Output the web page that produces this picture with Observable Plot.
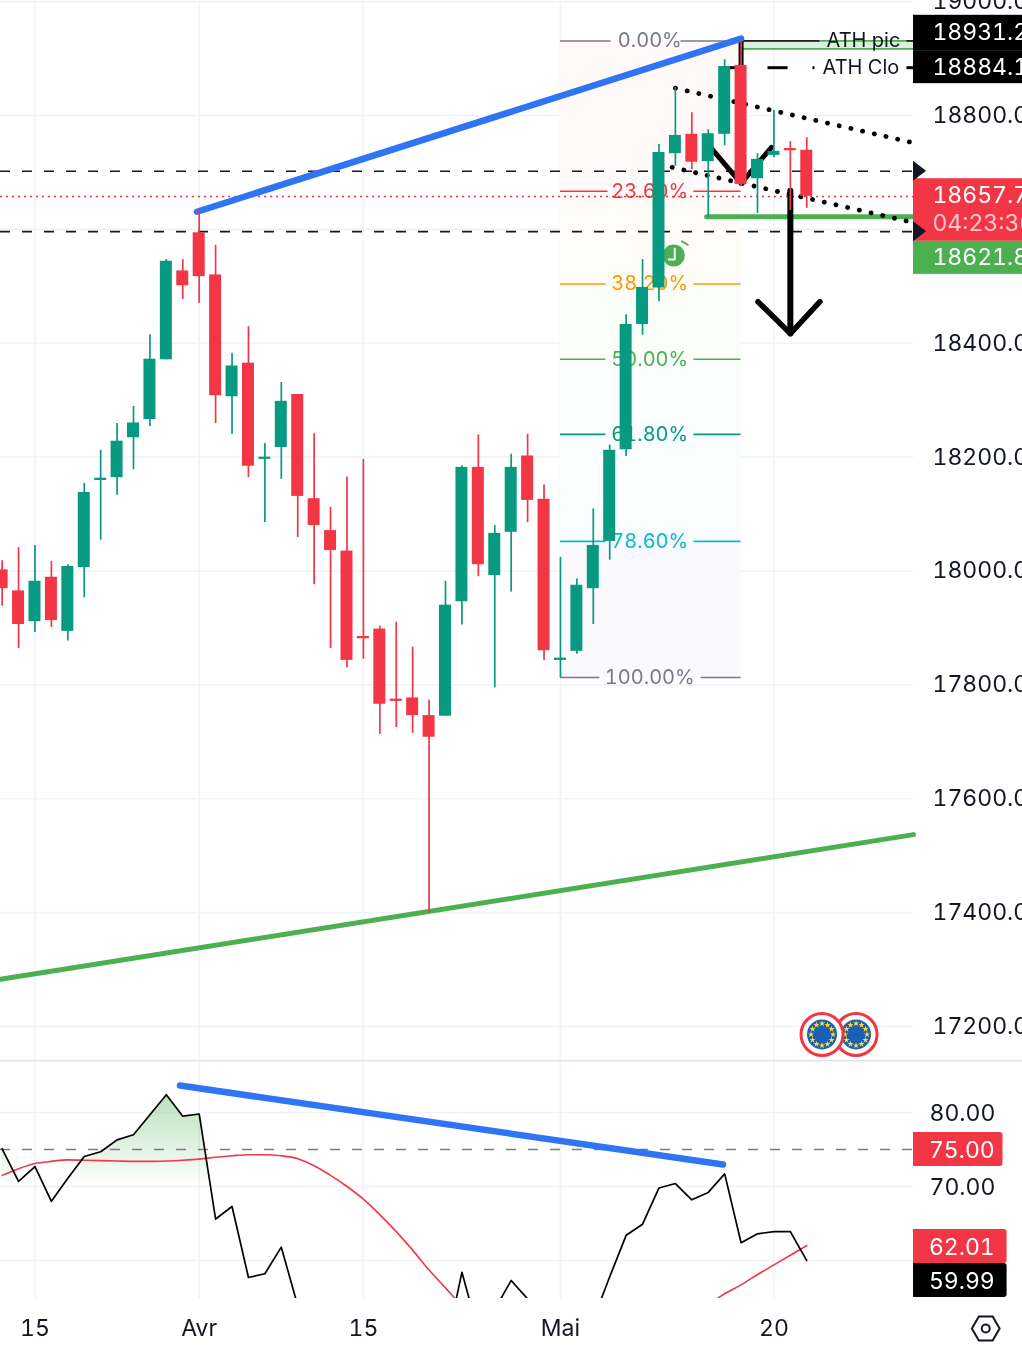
<!DOCTYPE html>
<html><head><meta charset="utf-8">
<script src="https://cdn.jsdelivr.net/npm/d3@7"></script>
<script src="https://cdn.jsdelivr.net/npm/@observablehq/plot@0.6"></script>
<style>
html,body{margin:0;padding:0;background:#fff;width:1022px;height:1352px;overflow:hidden}
#c{position:relative;width:1022px;height:1352px;overflow:hidden}
#c svg{display:block;position:absolute;left:0;font-variant-numeric:tabular-nums;filter:blur(.35px)}
</style></head><body><div id="c"></div>
<script>
// ---- price data (bar index 0 = the 15th of March, 10 = 1 April, 20 = 15 April, 32 = 1 May, 45 = 20 May)
const firstBar = -2;
const opens  = [18002,17965,17911,17989,17894,18006,18159,18164,18234,18266,18371,18527,18594,18520,18306,18365,18196,18217,18310,18127,18071,18035,17885,17898,17775,17777,17746,17745,17946,18182,17992,18068,18202,18126,17843,17859,17969,18052,18213,18433,18497,18733,18767,18719,18767,18888,18689,18730,18742,18739];
const closes = [17969,17906,17982,17913,18008,18138,18163,18228,18260,18372,18544,18501,18517,18308,18360,18184,18200,18298,18131,18080,18036,17843,17881,17766,17771,17746,17708,17940,18182,18011,18066,18182,18124,17860,17847,17975,18045,18212,18433,18498,18735,18765,18718,18768,18886,18679,18723,18737,18738,18658];
const highs  = [18018,18041,18045,18017,18011,18154,18212,18259,18289,18415,18547,18547,18633,18572,18382,18429,18224,18331,18310,18241,18112,18165,18196,17903,17910,17866,17773,17982,18185,18239,18080,18205,18240,18151,18024,17986,18109,18221,18450,18547,18749,18849,18805,18775,18898,18931,18733,18809,18754,18761];
const lows   = [17938,17864,17892,17901,17877,17953,18054,18133,18178,18254,18371,18477,18470,18259,18240,18164,18085,18161,18059,17976,17864,17830,17845,17713,17725,17715,17400,17745,17905,17990,17795,17963,18085,17843,17813,17854,17906,18019,18201,18414,18473,18711,18705,18621,18747,18675,18628,18726,18633,18637];
const rsiValues = [75.1,70.7,72.7,68.0,71.1,74.05,74.7,76.3,77.0,79.7,82.4,79.5,79.8,65.6,67.3,57.7,58.2,61.8,53.9,52,50,46,46,43,43,42,41,48,58.4,50.3,53.4,57.3,54.8,47,43,46,52,57.8,63.4,64.9,69.8,70.4,68.2,69.2,71.7,62.4,63.6,63.9,63.9,59.99];
const rsiMaValues = [71.5,72.4,73.1,73.4,73.6,73.55,73.5,73.45,73.4,73.4,73.45,73.55,73.7,73.95,74.15,74.3,74.3,74.15,73.75,72.8,71.5,70.0,68.3,66.2,63.9,61.4,58.7,56.3,53.9,52.5,51,50,49.5,49,48,47.5,47,47,47.5,48.5,50,51,52.5,54,55.5,56.7,58.1,59.4,60.7,62.01];

const priceTicks = [17200,17400,17600,17800,18000,18200,18400,18600,18800,19000];
const priceLabels = [17200,17400,17600,17800,18000,18200,18400,18800,19000];
const timeTicks = [0,10,20,32,45];
const timeNames = ["15","Avr","15","Mai","20"];
const rsiGrid = [80,70,60];
const rsiLabels = [80,70];

const fibLevels  = [18931,18667,18504,18372,18240,18052,17813];
const fibNames   = ["0.00%","23.60%","38.20%","50.00%","61.80%","78.60%","100.00%"];
const fibColors  = ["#787b86","#f23645","#ff9800","#4caf50","#089981","#00bcd4","#787b86"];
const fibFills   = ["#fff9f9","#fffcf8","#fbfdf9","#fafdfb","#f9fdfd","#fafafe"];
const fibGapFrom = [35.08,34.9,34.77,34.77,34.77,34.77,34.4];
const fibGapTo   = [39.34,40.13,40.13,40.13,40.13,40.13,40.56];
const hiddenLevels = [18702,18596];

const tagBoxes = [
  {top:18976,bottom:18914,fill:"#000000"},
  {top:18914,bottom:18856,fill:"#000000"},
  {top:18689,bottom:18579,fill:"#f23645"},
  {top:18579,bottom:18521,fill:"#4caf50"}];
const tagTexts = [
  {y:18946,text:"18931.20",o:1},{y:18884,text:"18884.10",o:1},
  {y:18659,text:"18657.70",o:1},{y:18610,text:"04:23:36",o:.72},{y:18551,text:"18621.80",o:1}];
const rsiTags = [
  {top:77.3,bottom:72.7,end:58.95,y:75,text:"75.00",fill:"#f23645"},
  {top:64.19,bottom:59.59,end:59.2,y:61.9,text:"62.01",fill:"#f23645"},
  {top:59.59,bottom:55,end:59.2,y:57.3,text:"59.99",fill:"#000000"}];

// ---- layout of the x scale
const left=-2.1,right=53.5,edge=right,pageEnd=61,tagText=54.65,rsiTagText=54.44,tipT=54.3;
const bars = opens.map((o,i)=>({t:firstBar+i,open:o,close:closes[i],high:highs[i],low:lows[i]}));
const rsiRows = rsiValues.map((v,i)=>({t:firstBar+i,v,ma:rsiMaValues[i]}));
const up="#089981",down="#f23645",ink="#131722",gridC="#f2f3f6",blue="#2f74f5",green="#4caf50";
const color=d=>d.close>=d.open?up:down;
const seg=(pts,o)=>Plot.line(pts,{x:"0",y:"1",...o});
const text=(o)=>({fontFamily:"Inter",...o});

const fibRows = fibLevels.map((p,i)=>({p,name:fibNames[i],c:fibColors[i],a:fibGapFrom[i],b:fibGapTo[i]}));
const fibBands = fibFills.map((f,i)=>({top:fibLevels[i],bottom:fibLevels[i+1],f}));

// EU flag badge
function flag(t){
  const m=[
    Plot.dot([[t,17186]],{x:"0",y:"1",r:21,fill:"#fff",stroke:down,strokeWidth:3}),
    Plot.dot([[t,17186]],{x:"0",y:"1",r:15,fill:"#1a5fb4"})];
  d3.range(12).forEach(k=>{const a=k/12*2*Math.PI;
    m.push(Plot.dot([[t,17186]],{x:"0",y:"1",symbol:"star",r:2,fill:"#ffd83a",dx:11*Math.sin(a),dy:11*Math.cos(a)}));});
  return m;
}
// tag pointer on the price scale
const pointer=p=>Plot.areaY([{x:edge,a:p+17.6,b:p-17.6},{x:tipT,a:p,b:p}],{x:"x",y1:"a",y2:"b",fill:ink});

const main = Plot.plot({
  width:1022,height:1060,marginLeft:0,marginRight:109,marginTop:0,marginBottom:0,
  style:{background:"transparent",fontFamily:"Inter"},
  x:{type:"linear",domain:[left,right],axis:null},
  y:{type:"linear",domain:[17140.3,19002],axis:null},
  color:{type:"identity"},
  marks:[
    Plot.ruleY(priceTicks,{stroke:gridC,strokeWidth:1.6}),
    Plot.ruleX(timeTicks,{stroke:gridC,strokeWidth:1.6}),
    Plot.rect(fibBands,{x1:()=>32,x2:()=>43,y1:"top",y2:"bottom",fill:"f"}),
    Plot.ruleY(fibRows,{y:"p",x1:()=>32,x2:"a",stroke:"c",strokeWidth:1.6}),
    Plot.ruleY(fibRows,{y:"p",x1:"b",x2:()=>43,stroke:"c",strokeWidth:1.6}),
    Plot.text(fibRows,text({x:()=>37.44,y:"p",text:"name",fill:"c",fontSize:20})),
    Plot.ruleY(hiddenLevels,{stroke:ink,strokeWidth:1.6,strokeDasharray:"10 12"}),
    Plot.ruleY([18657.7],{stroke:down,strokeWidth:1.6,strokeDasharray:"2 4"}),
    // ATH band
    Plot.rect([{a:18931,b:18917}],{x1:()=>43,x2:()=>edge,y1:"a",y2:"b",fill:"#dcefdc"}),
    Plot.ruleY([18931,18917],{x1:()=>43,x2:()=>edge,stroke:green,strokeWidth:1.8}),
    Plot.ruleY([18931],{x1:()=>43,x2:()=>47.8,stroke:"#222",strokeWidth:1.8}),
    Plot.ruleY([18931],{x1:()=>53.1,x2:()=>edge,stroke:"#222",strokeWidth:1.8}),
    ...[[42.08,42.9],[44.64,45.86],[47.38,47.5],[53.1,edge]].map(([a,b])=>Plot.ruleY([18884],{x1:()=>a,x2:()=>b,stroke:"#000",strokeWidth:3})),
    seg([[43,18931],[43,18884]],{stroke:"#000",strokeWidth:5}),
    Plot.text([["ATH pic",18931]],text({x:()=>50.45,y:"1",text:"0",fill:ink,fontSize:20})),
    Plot.text([["ATH Clo",18884]],text({x:()=>50.3,y:"1",text:"0",fill:ink,fontSize:20})),
    // drawings
    seg([[left,17283],[right,17537]],{stroke:green,strokeWidth:5}),
    seg([[40.9,18622],[right,18622]],{stroke:green,strokeWidth:5,strokeLinecap:"round"}),
    seg([[39,18848],[right,18752]],{stroke:"#000",strokeWidth:4.8,strokeLinecap:"round",strokeDasharray:"0.1 11.9"}),
    seg([[38.8,18709],[right,18612]],{stroke:"#000",strokeWidth:4.8,strokeLinecap:"round",strokeDasharray:"0.1 11.9"}),
    seg([[41,18749],[43,18681],[44.85,18744]],{stroke:"#000",strokeWidth:5,strokeLinecap:"round"}),
    seg([[46,18668],[46,18417]],{stroke:"#000",strokeWidth:6}),
    seg([[44.03,18473],[46,18417],[47.8,18473]],{stroke:"#000",strokeWidth:5.5,strokeLinecap:"round"}),
    seg([[9.87,18631],[43,18935]],{stroke:blue,strokeWidth:6.5,strokeLinecap:"round"}),
    // alarm
    Plot.dot([[38.9,18554]],{x:"0",y:"1",r:11,fill:green}),
    seg([[38.96,18566],[38.96,18547],[38.6,18547]],{stroke:"#fff",strokeWidth:2}),
    seg([[39.4,18579],[39.75,18573]],{stroke:green,strokeWidth:2}),
    // candles
    Plot.ruleX(bars,{x:"t",y1:"low",y2:"high",stroke:color,strokeWidth:1.7}),
    Plot.rect(bars,{x1:d=>d.t-.365,x2:d=>d.t+.365,y1:"open",y2:"close",fill:color}),
    // flags: right one beneath the left one
    ...flag(50),...flag(47.93),
    // price scale
    Plot.axisY({anchor:"right",ticks:priceLabels,tickSize:0,tickPadding:19,tickFormat:d=>d.toFixed(2),textAnchor:"start",fontSize:23,fill:ink,label:null}),
    Plot.rect(tagBoxes,{x1:()=>edge,x2:()=>pageEnd,y1:"top",y2:"bottom",fill:"fill"}),
    Plot.text(tagTexts,text({x:()=>tagText,y:"y",text:"text",textAnchor:"start",fill:"#fff",fillOpacity:"o",fontSize:23})),
    ...hiddenLevels.map(pointer)
  ]
});
main.style.top="0px";

const fillRows = rsiRows.filter(d=>d.t<=10).map(d=>({t:d.t,v:Math.max(d.v,70)})).concat([{t:10.69,v:70}]);
const rsi = Plot.plot({
  width:1022,height:292,marginLeft:0,marginRight:109,marginTop:0,marginBottom:54,
  style:{background:"transparent",fontFamily:"Inter"},
  x:{type:"linear",domain:[left,right],axis:null},
  y:{type:"linear",domain:[54.86,87.03],axis:null},
  color:{type:"identity"},
  marks:[
    ()=>{const d=d3.create("svg:defs"),g=d.append("linearGradient").attr("id","g1").attr("x1",0).attr("x2",0).attr("y1",0).attr("y2",1);
      g.append("stop").attr("offset",0).attr("stop-color",green).attr("stop-opacity",.38);
      g.append("stop").attr("offset",1).attr("stop-color",green).attr("stop-opacity",0);
      return d.node();},
    Plot.ruleY(rsiGrid,{stroke:gridC,strokeWidth:1.6}),
    Plot.ruleX(timeTicks,{stroke:gridC,strokeWidth:1.6}),
    Plot.ruleY([87.03],{x1:()=>left,x2:()=>pageEnd,stroke:"#e0e3eb",strokeWidth:2}),
    Plot.areaY(fillRows,{x:"t",y1:()=>70,y2:"v",fill:"url(#g1)",clip:true}),
    Plot.ruleY([75],{stroke:"#787b86",strokeWidth:1.6,strokeDasharray:"10 12"}),
    Plot.line(rsiRows,{x:"t",y:"ma",stroke:down,strokeWidth:1.6,curve:"monotone-x",clip:true}),
    Plot.line(rsiRows,{x:"t",y:"v",stroke:"#000",strokeWidth:1.7,clip:true}),
    seg([[8.83,83.65],[41.9,72.97]],{stroke:blue,strokeWidth:6.5,strokeLinecap:"round"}),
    Plot.axisY({anchor:"right",ticks:rsiLabels,tickSize:0,tickPadding:16,dy:1,tickFormat:d=>d.toFixed(2),textAnchor:"start",fontSize:23,fill:ink,label:null}),
    Plot.rect(rsiTags,{x1:()=>edge,x2:"end",y1:"top",y2:"bottom",fill:"fill",rx:3}),
    Plot.rect(rsiTags,{x1:()=>edge,x2:()=>54.5,y1:"top",y2:"bottom",fill:"fill"}),
    Plot.text(rsiTags,text({x:()=>rsiTagText,y:"y",dy:1,text:"text",textAnchor:"start",fill:"#fff",fontSize:23})),
    Plot.axisX({ticks:timeTicks,tickSize:0,tickPadding:21,tickFormat:d=>timeNames[timeTicks.indexOf(d)],fontSize:23,fill:ink,label:null}),
    Plot.dot([[57.9,50.8]],{x:"0",y:"1",symbol:"hexagon",rotate:90,r:12,fill:"none",stroke:ink,strokeWidth:2}),
    Plot.dot([[57.9,50.8]],{x:"0",y:"1",r:4,fill:"none",stroke:ink,strokeWidth:2})
  ]
});
rsi.style.top="1060px";

const c=document.getElementById("c");
c.append(main,rsi);
</script></body></html>
